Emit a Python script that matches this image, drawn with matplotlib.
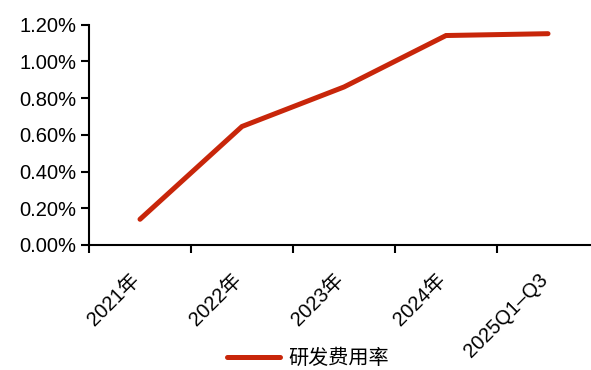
import matplotlib
matplotlib.use("Agg")
import matplotlib.pyplot as plt
from matplotlib.ticker import FixedLocator, FuncFormatter
from matplotlib.transforms import ScaledTranslation

categories = ["2021年", "2022年", "2023年", "2024年", "2025Q1–Q3"]
rd_ratio = [0.14, 0.645, 0.86, 1.14, 1.15]  # percent
y_ticks = [0.0, 0.2, 0.4, 0.6, 0.8, 1.0, 1.2]
series_name = "研发费用率"

plt.rcParams['font.family'] = ['Liberation Sans', 'Noto Sans CJK SC', 'DejaVu Sans']

fig = plt.figure(figsize=(5.91, 3.70), dpi=100)
ax = fig.add_axes([89/591, 1 - 245/370, 510/591, (245 - 24.5)/370])

x = list(range(len(categories)))
line, = ax.plot(x, rd_ratio, color='#C8260A', lw=3.6, solid_capstyle='round',
                solid_joinstyle='miter', label=series_name)

ax.set_xlim(-0.5, len(categories) - 0.5)
ax.set_ylim(0, 1.2)
ax.yaxis.set_major_locator(FixedLocator(y_ticks))
ax.yaxis.set_major_formatter(FuncFormatter(lambda v, p: f"{v:.2f}%"))

ax.xaxis.set_major_locator(FixedLocator([i - 0.5 for i in range(len(categories) + 1)]))
ax.xaxis.set_major_formatter(FuncFormatter(lambda v, p: ""))
ax.xaxis.set_minor_locator(FixedLocator(x))
ax.set_xticks(x, minor=True)
ax.set_xticklabels(categories, minor=True, rotation=45, ha='right', va='top',
                   rotation_mode='anchor', fontsize=14.5)
ax.tick_params(axis='x', which='minor', length=0, pad=14)
ax.tick_params(axis='x', which='major', length=6, width=1.5, direction='out')
ax.tick_params(axis='y', which='major', length=6, width=1.5, direction='out',
               labelsize=14.5, pad=3)

offset = ScaledTranslation(-10/100, -6/100, fig.dpi_scale_trans)
for lab in ax.get_xticklabels(minor=True):
    lab.set_transform(lab.get_transform() + offset)

for s in ['top', 'right']:
    ax.spines[s].set_visible(False)
for s in ['left', 'bottom']:
    ax.spines[s].set_linewidth(1.5)
    ax.spines[s].set_color('black')

fig.legend(handles=[line], labels=[series_name], loc='center',
           bbox_to_anchor=(308/591, 1 - 358/370), frameon=False,
           fontsize=14.5, handlelength=2.6, handletextpad=0.4)

fig.savefig("out.png", dpi=100)
